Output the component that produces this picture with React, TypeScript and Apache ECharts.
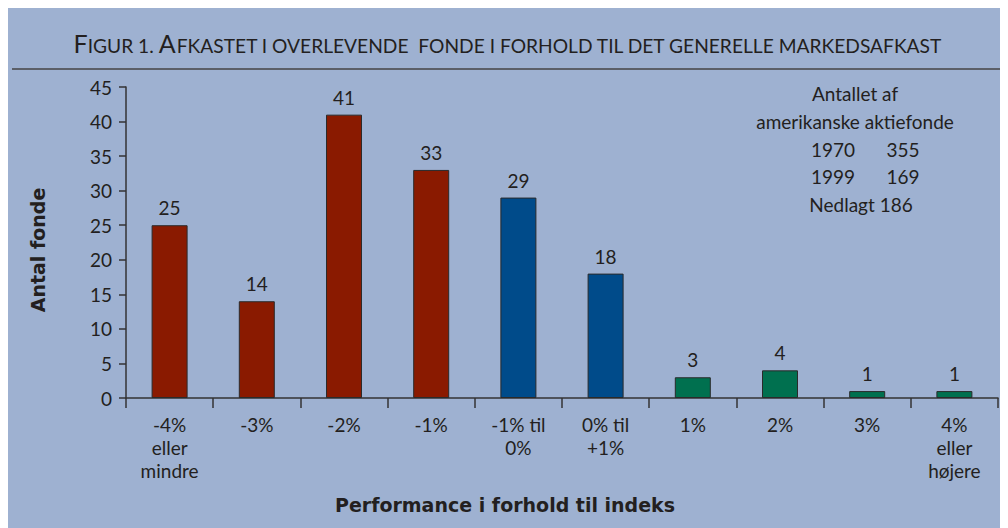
import React, { useEffect, useRef } from "react";
import * as echarts from "echarts";

const categories = ["-4%\neller\nmindre", "-3%", "-2%", "-1%", "-1% til\n0%", "0% til\n+1%", "1%", "2%", "3%", "4%\neller\nhøjere"];
const values = [25, 14, 41, 33, 29, 18, 3, 4, 1, 1];
const groups = ["neg", "neg", "neg", "neg", "mid", "mid", "pos", "pos", "pos", "pos"];
const yTicks = [0, 5, 10, 15, 20, 25, 30, 35, 40, 45];
const yName = "Antal fonde";
const xName = "Performance i forhold til indeks";
const noteLines = ["Antallet af", "amerikanske aktiefonde"];
const noteRows = [["1970", "355"], ["1999", "169"]];
const noteLast = "Nedlagt 186";

const groupColors: Record<string, string> = { neg: "#8a1a00", mid: "#004b8a", pos: "#00704f" };
const FONT = "Lato, 'DejaVu Sans', sans-serif";
const BOLD = "'DejaVu Sans', sans-serif";
const TXT = "#231f20";

export default function App() {
  const ref = useRef<HTMLDivElement>(null);
  useEffect(() => {
    const chart = echarts.init(ref.current!, null, { renderer: "svg" });
    chart.setOption({
      animation: false,
      backgroundColor: "#9eb1d1",
      textStyle: { fontFamily: FONT },
      title: {
        left: "center",
        top: 17,
        text: "{b|F}{s|IGUR 1. }{b|A}{s|FKASTET I OVERLEVENDE  FONDE I FORHOLD TIL DET GENERELLE MARKEDSAFKAST}",
        textStyle: {
          fontWeight: "normal",
          rich: {
            b: { fontSize: 25, color: TXT, fontFamily: FONT, fontWeight: "normal", verticalAlign: "bottom" },
            s: { fontSize: 19.2, color: TXT, fontFamily: FONT, fontWeight: "normal", verticalAlign: "bottom" },
          },
        },
      },
      grid: { left: 118, right: 10, top: 79, bottom: 130 },
      xAxis: {
        type: "category",
        data: categories,
        axisLine: { lineStyle: { color: "#333", width: 1.5 } },
        axisTick: { show: true, length: 10, lineStyle: { color: "#333", width: 1.5 } },
        axisLabel: { color: TXT, fontSize: 19, lineHeight: 23, margin: 15, fontFamily: FONT, interval: 0 },
      },
      yAxis: {
        type: "value",
        min: 0,
        max: 45,
        interval: 5,
        splitLine: { show: false },
        axisLine: { show: true, lineStyle: { color: "#333", width: 1.5 } },
        axisTick: { show: true, length: 7, lineStyle: { color: "#333", width: 1.5 } },
        axisLabel: {
          color: TXT,
          fontSize: 19,
          margin: 14,
          fontFamily: FONT,
          formatter: (v: number) => (yTicks.includes(v) ? String(v) : ""),
        },
      },
      series: [
        {
          type: "bar",
          barWidth: 36,
          data: values.map((v, i) => ({
            value: v,
            itemStyle: { color: groupColors[groups[i]], borderColor: "#2a2a2a", borderWidth: 1 },
          })),
          label: { show: true, position: "top", distance: 8, color: TXT, fontSize: 19, fontFamily: FONT },
        },
      ],
      graphic: [
        { type: "line", shape: { x1: 4, y1: 61, x2: 995, y2: 61 }, style: { stroke: "#444", lineWidth: 1.5 } },
        {
          type: "text",
          x: 30,
          y: 242,
          rotation: Math.PI / 2,
          style: { text: yName, font: `bold 19px ${BOLD}`, fill: TXT, align: "center", verticalAlign: "middle" },
        },
        {
          type: "text",
          x: 497,
          y: 497,
          style: { text: xName, font: `bold 19px ${BOLD}`, fill: TXT, align: "center", verticalAlign: "middle" },
        },
        ...noteLines.map((t, i) => ({
          type: "text",
          x: 847,
          y: 85 + i * 28,
          style: { text: t, font: `19px ${FONT}`, fill: TXT, align: "center", verticalAlign: "middle" },
        })),
        ...noteRows.flatMap((r, i) => [
          { type: "text", x: 825, y: 141 + i * 27, style: { text: r[0], font: `19px ${FONT}`, fill: TXT, align: "center", verticalAlign: "middle" } },
          { type: "text", x: 895, y: 141 + i * 27, style: { text: r[1], font: `19px ${FONT}`, fill: TXT, align: "center", verticalAlign: "middle" } },
        ]),
        { type: "text", x: 853, y: 196, style: { text: noteLast, font: `19px ${FONT}`, fill: TXT, align: "center", verticalAlign: "middle" } },
      ],
    });
    return () => chart.dispose();
  }, []);
  return <div ref={ref} style={{ width: 1000, height: 520 }} />;
}
